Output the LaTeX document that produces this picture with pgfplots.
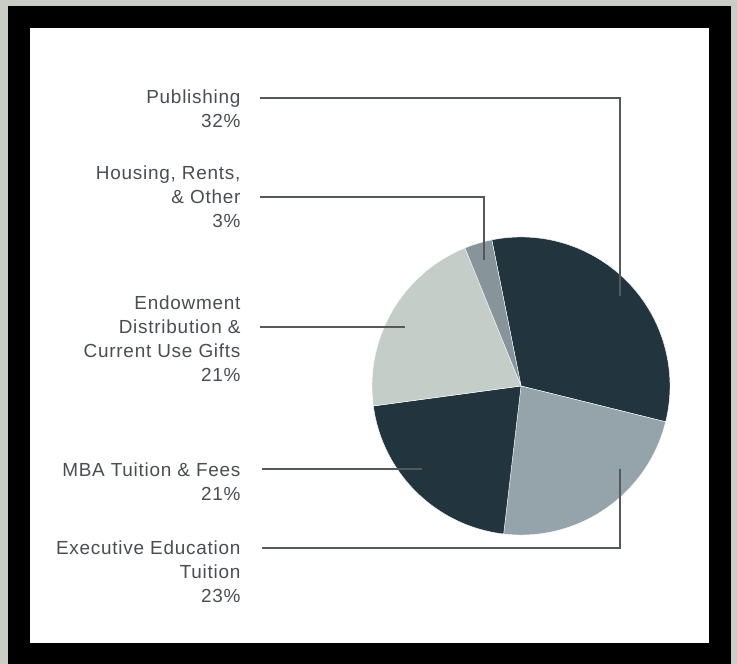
\documentclass[border=0pt]{standalone}
\usepackage{pgfplots}
\usepackage{pgfplotstable}
\pgfplotsset{compat=1.18}
\usepackage{fontspec}
\setmainfont{Liberation Sans}[LetterSpace=4]

\definecolor{cdark}{HTML}{22353F}
\definecolor{cmid}{HTML}{95A4AA}
\definecolor{clight}{HTML}{C5CDC8}
\definecolor{cgray}{HTML}{87959A}
\definecolor{cframe}{HTML}{C9CDC5}
\definecolor{ctext}{HTML}{4A4E51}
\definecolor{cline}{HTML}{55595C}

% share of revenue, clockwise from Publishing
\pgfplotstableread{
pct col
32 cdark
23 cmid
21 cdark
21 clight
3 cgray
}\piedata

% multi-line nodes: base anchor sits on the last line
\tikzset{
  lbl/.style={anchor=base east, align=right, text=ctext,
    font=\fontsize{19}{23.8}\selectfont},
  lead/.style={draw=cline, line width=1.2bp},
}

\begin{document}
\begin{tikzpicture}
\begin{axis}[
    scale only axis,
    width=737bp, height=664bp,
    xmin=0, xmax=737, ymin=0, ymax=664,
    y dir=reverse,
    hide axis,
    clip=false,
]
% frame
\fill[cframe] (axis cs:0,0) rectangle (axis cs:737,664);
\fill[black] (axis cs:8,6) rectangle (axis cs:731,664);
\fill[white] (axis cs:30,28) rectangle (axis cs:709,643);

% pie
\pgfmathsetmacro\acc{101.3}
\pgfplotstablegetrowsof{\piedata}
\pgfmathtruncatemacro\nrows{\pgfplotsretval-1}
\pgfplotsforeachungrouped \i in {0,...,\nrows}{%
  \pgfplotstablegetelem{\i}{pct}\of\piedata \let\p\pgfplotsretval
  \pgfplotstablegetelem{\i}{col}\of\piedata \let\wcol\pgfplotsretval
  \pgfmathsetmacro\aend{\acc-3.6*\p}
  \edef\mywedge{\noexpand\fill[\wcol, draw=white, line width=0.4bp]
    (axis cs:521,386) -- ++(\acc:149bp)
    arc[start angle=\acc, end angle=\aend, radius=149bp] -- cycle;}
  \mywedge
  \let\acc\aend
}

% leader lines
\draw[lead] (axis cs:260,98) -- (axis cs:620,98) -- (axis cs:620,296);
\draw[lead] (axis cs:260,197) -- (axis cs:484,197) -- (axis cs:484,260);
\draw[lead] (axis cs:260,327) -- (axis cs:405,327);
\draw[lead] (axis cs:262,469) -- (axis cs:422,469);
\draw[lead] (axis cs:262,548) -- (axis cs:620,548) -- (axis cs:620,469);

% labels (placed by the baseline of their last line)
\node[lbl] at (axis cs:244,127) {Publishing\\32\%};
\node[lbl] at (axis cs:244,227) {Housing, Rents,\\\& Other\\3\%};
\node[lbl] at (axis cs:244,381) {Endowment\\Distribution \&\\Current Use Gifts\\21\%};
\node[lbl] at (axis cs:244,500) {MBA Tuition \& Fees\\21\%};
\node[lbl] at (axis cs:244,602) {Executive Education\\Tuition\\23\%};
\end{axis}
\end{tikzpicture}
\end{document}
